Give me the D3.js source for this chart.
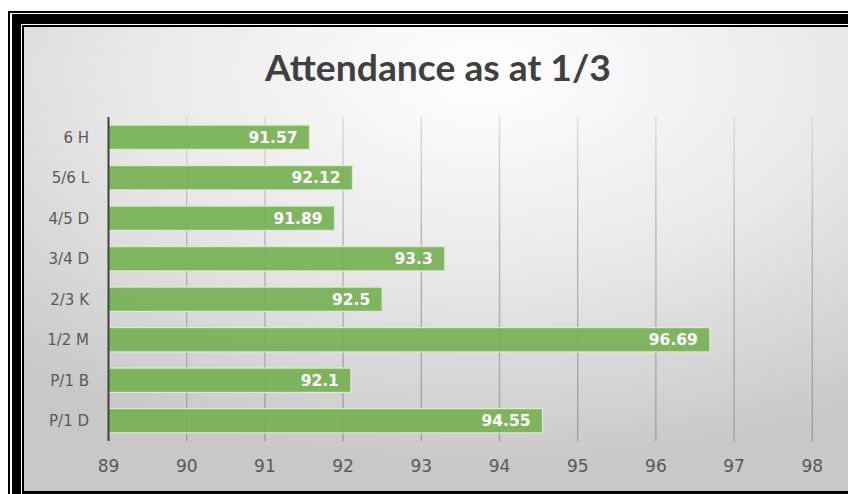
<!DOCTYPE html>
<html>
<head>
<meta charset="utf-8">
<script src="https://cdn.jsdelivr.net/npm/d3@7"></script>
<style>
  html, body { margin: 0; padding: 0; background: #fff; }
  svg { display: block; }
</style>
</head>
<body>
<div id="chart"></div>
<script>
// Attendance bar chart

const categories = ['6 H', '5/6 L', '4/5 D', '3/4 D', '2/3 K', '1/2 M', 'P/1 B', 'P/1 D'];
const attendance = [91.57, 92.12, 91.89, 93.3, 92.5, 96.69, 92.1, 94.55];
const xTicks = [89, 90, 91, 92, 93, 94, 95, 96, 97, 98];
const titleText = 'Attendance as at 1/3';

const width = 848;
const height = 494;

const svg = d3.select('#chart')
  .append('svg')
  .attr('width', width)
  .attr('height', height);

const defs = svg.append('defs');

// Background radial gradient
const bg = defs.append('radialGradient')
  .attr('id', 'bgGrad')
  .attr('cx', 0.56)
  .attr('cy', 0.1)
  .attr('r', 0.85);
bg.append('stop').attr('offset', '0%').attr('stop-color', '#ffffff');
bg.append('stop').attr('offset', '50%').attr('stop-color', '#e9e9e9');
bg.append('stop').attr('offset', '100%').attr('stop-color', '#c8c8c8');

// Double frame
const frame = [
  { x: 8, y: 11, fill: '#000' },
  { x: 10, y: 13, fill: '#fff' },
  { x: 12, y: 14, fill: '#000' },
  { x: 21, y: 24, fill: '#fff' },
  { x: 22, y: 25, fill: '#000' }
];
frame.forEach(f => {
  svg.append('rect')
    .attr('x', f.x).attr('y', f.y)
    .attr('width', width - f.x + 10)
    .attr('height', height - f.y + 10)
    .attr('fill', f.fill);
});

// Chart area
const area = { x: 24, y: 27, w: width - 24, h: 491 - 27 };
svg.append('rect')
  .attr('x', area.x).attr('y', area.y)
  .attr('width', area.w).attr('height', area.h)
  .attr('fill', 'url(#bgGrad)');

// Title
svg.append('text')
  .attr('x', 438)
  .attr('y', 81)
  .attr('text-anchor', 'middle')
  .attr('font-family', 'Lato, "Open Sans", sans-serif')
  .attr('font-weight', 700)
  .attr('font-size', 36)
  .attr('fill', '#404040')
  .attr('textLength', 346)
  .attr('lengthAdjust', 'spacingAndGlyphs')
  .text(titleText);

// Scales
const plot = { left: 108.5, right: 812.3, top: 117, bottom: 441 };

const x = d3.scaleLinear()
  .domain([89, 98])
  .range([plot.left, plot.right]);

const y = d3.scaleBand()
  .domain(categories)
  .range([plot.top, plot.bottom])
  .paddingInner(0.4)
  .paddingOuter(0.2);

// Gridlines
const gridGrad = defs.append('linearGradient')
  .attr('id', 'gridGrad')
  .attr('gradientUnits', 'userSpaceOnUse')
  .attr('x1', 0).attr('y1', plot.top)
  .attr('x2', 0).attr('y2', plot.bottom);
gridGrad.append('stop').attr('offset', '0%').attr('stop-color', '#dadada');
gridGrad.append('stop').attr('offset', '35%').attr('stop-color', '#b4b4b4');
gridGrad.append('stop').attr('offset', '100%').attr('stop-color', '#9c9c9c');

svg.append('g')
  .selectAll('line')
  .data(xTicks.slice(1))
  .join('line')
  .attr('x1', d => x(d)).attr('x2', d => x(d))
  .attr('y1', plot.top).attr('y2', plot.bottom)
  .attr('stroke', 'url(#gridGrad)')
  .attr('stroke-width', 1.3);

// Bars
svg.append('g')
  .selectAll('rect')
  .data(attendance)
  .join('rect')
  .attr('x', x(89))
  .attr('y', (d, i) => y(categories[i]))
  .attr('width', d => x(d) - x(89))
  .attr('height', y.bandwidth())
  .attr('fill', '#77b254')
  .attr('fill-opacity', 0.93)
  .attr('stroke', '#dcebd0')
  .attr('stroke-width', 1.2);

// Value labels
svg.append('g')
  .selectAll('text')
  .data(attendance)
  .join('text')
  .attr('x', d => x(d) - 12)
  .attr('y', (d, i) => y(categories[i]) + y.bandwidth() / 2)
  .attr('dy', '0.36em')
  .attr('text-anchor', 'end')
  .attr('font-family', '"DejaVu Sans", sans-serif')
  .attr('font-weight', 700)
  .attr('font-size', 15.5)
  .attr('fill', '#ffffff')
  .text(d => d);

// Vertical axis line
svg.append('line')
  .attr('x1', x(89)).attr('x2', x(89))
  .attr('y1', plot.top).attr('y2', plot.bottom)
  .attr('stroke', '#404040')
  .attr('stroke-width', 2);

// Category labels
svg.append('g')
  .selectAll('text')
  .data(categories)
  .join('text')
  .attr('x', 89)
  .attr('y', d => y(d) + y.bandwidth() / 2)
  .attr('dy', '0.36em')
  .attr('text-anchor', 'end')
  .attr('font-family', '"DejaVu Sans", sans-serif')
  .attr('font-size', 15)
  .attr('fill', '#595959')
  .text(d => d);

// Tick labels
svg.append('g')
  .selectAll('text')
  .data(xTicks)
  .join('text')
  .attr('x', d => x(d))
  .attr('y', 466)
  .attr('dy', '0.36em')
  .attr('text-anchor', 'middle')
  .attr('font-family', '"DejaVu Sans", sans-serif')
  .attr('font-size', 17)
  .attr('fill', '#595959')
  .text(d => d);
</script>
</body>
</html>
